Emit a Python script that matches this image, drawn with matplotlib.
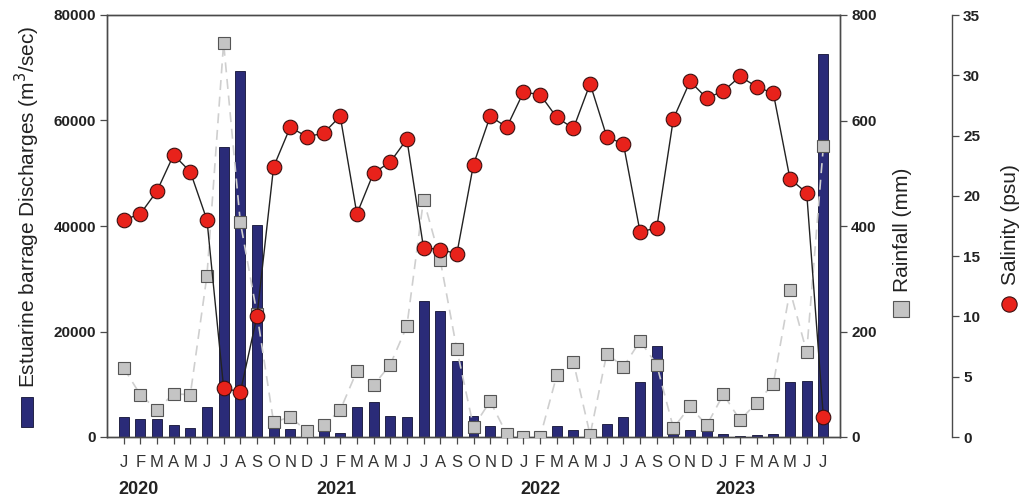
import matplotlib
matplotlib.use("Agg")
import matplotlib.pyplot as plt
import matplotlib.transforms as mtransforms
from matplotlib.lines import Line2D
from matplotlib.patches import Rectangle
import numpy as np

plt.rcParams['font.family'] = ['Liberation Sans', 'DejaVu Sans']

months = ["J", "F", "M", "A", "M", "J", "J", "A", "S", "O", "N", "D"] * 3 + ["J", "F", "M", "A", "M", "J", "J"]
years = ["2020", "2021", "2022", "2023"]
year_pos = [0.92, 12.75, 24.99, 36.7]

discharge = [3800, 3500, 3500, 2200, 1800, 5700, 54900, 69400, 40100, 2100, 1500, 1700,
             1200, 800, 5600, 6700, 3900, 3800, 25700, 23800, 14400, 3900, 2000, 600,
             200, 200, 2000, 1300, 300, 2400, 3700, 10400, 17300, 600, 1300, 1300,
             600, 250, 320, 650, 10400, 10550, 72700]

rainfall = [131, 80, 52, 82, 80, 306, 747, 408, 234, 28, 38, 11,
            22, 51, 125, 98, 137, 210, 450, 336, 166, 19, 68, 5,
            0, 0, 117, 142, 4, 158, 133, 182, 137, 17, 58, 22,
            81, 32, 65, 101, 278, 161, 551]

salinity = [18.0, 18.5, 20.4, 23.4, 22.0, 18.0, 4.1, 3.7, 10.0, 22.4, 25.7, 24.9,
            25.2, 26.6, 18.5, 21.9, 22.8, 24.7, 15.7, 15.55, 15.2, 22.6, 26.6, 25.7,
            28.6, 28.4, 26.5, 25.6, 29.3, 24.9, 24.3, 17.0, 17.35, 26.4, 29.5, 28.1,
            28.7, 29.9, 29.05, 28.5, 21.4, 20.25, 1.7]

x = np.arange(len(months))

W, H = 1027, 503
fig = plt.figure(figsize=(W / 100, H / 100), dpi=100)
L, R, T, B = 107, 840, 15, 437
ax = fig.add_axes([L / W, 1 - B / H, (R - L) / W, (B - T) / H])

spine_col = '#4a4a4a'
tick_font = dict(fontsize=11, fontweight='bold', color='#222222')

ax.bar(x, discharge, width=0.6, color='#2a2b78', edgecolor='#111133', linewidth=0.6, zorder=2)
ax.set_xlim(-1, 43)
ax.set_ylim(0, 80000)
ax.set_yticks([0, 20000, 40000, 60000, 80000])
ax.set_yticklabels(['0', '20000', '40000', '60000', '80000'], **tick_font)
ax.set_xticks(x)
ax.set_xticklabels(months, fontsize=12, color='#333333')
ax.tick_params(axis='x', direction='out', length=5, width=0.9, color=spine_col, pad=8)
ax.tick_params(axis='y', direction='out', length=5, width=0.9, color=spine_col, pad=3)
for s in ax.spines.values():
    s.set_color(spine_col)
    s.set_linewidth(1.0)

ax2 = ax.twinx()
ax2.plot(x, rainfall, linestyle=(0, (6, 4)), color='#cfcfcf', linewidth=1.2,
         marker='s', markersize=9, markerfacecolor='#c4c4c4', markeredgecolor='#555555',
         markeredgewidth=0.8, zorder=3)
ax2.set_ylim(0, 800)
ax2.set_yticks([0, 200, 400, 600, 800])
ax2.set_yticklabels(['0', '200', '400', '600', '800'], **tick_font)
ax2.tick_params(axis='y', direction='out', length=5, width=0.9, color=spine_col, pad=3)
for s in ax2.spines.values():
    s.set_color(spine_col)
    s.set_linewidth(1.0)

ax3 = ax.twinx()
ax3.spines['right'].set_position(('axes', (952 - L) / (R - L)))
ax3.plot(x, salinity, color='#222222', linewidth=1.0,
         marker='o', markersize=10.5, markerfacecolor='#e8221b', markeredgecolor='#3a1010',
         markeredgewidth=0.8, zorder=4)
ax3.set_ylim(0, 35)
ax3.set_yticks([0, 5, 10, 15, 20, 25, 30, 35])
ax3.set_yticklabels(['0', '5', '10', '15', '20', '25', '30', '35'], **tick_font)
ax3.tick_params(axis='y', direction='out', length=5, width=0.9, color=spine_col, pad=3)
for name, s in ax3.spines.items():
    s.set_visible(name == 'right')
    s.set_color(spine_col)
    s.set_linewidth(1.0)

# year labels
trans = mtransforms.blended_transform_factory(ax.transData, ax.transAxes)
for yp, yl in zip(year_pos, years):
    ax.text(yp, -(490 - B) / (B - T), yl, transform=trans, ha='center', va='center',
            fontsize=13, fontweight='bold', color='#222222')

# rotated axis labels with legend symbols
lab_font = dict(fontsize=15, color='#222222', rotation=90)
fig.text(27 / W, 1 - 388 / H, 'Estuarine barrage Discharges (m$^3$/sec)', ha='center', va='bottom', **lab_font)
fig.patches.append(Rectangle((20.5 / W, 1 - 427 / H), 12.5 / W, 30 / H, transform=fig.transFigure,
                             facecolor='#2a2b78', edgecolor='#111133', linewidth=0.6))

fig.text(902 / W, 1 - 292 / H, 'Rainfall (mm)', ha='center', va='bottom', **lab_font)
fig.lines.append(Line2D([901 / W], [1 - 308.5 / H], transform=fig.transFigure, marker='s',
                        markersize=11.5, markerfacecolor='#c4c4c4', markeredgecolor='#555555',
                        markeredgewidth=0.8, linestyle='none'))

fig.text(1010 / W, 1 - 285 / H, 'Salinity (psu)', ha='center', va='bottom', **lab_font)
fig.lines.append(Line2D([1009 / W], [1 - 304 / H], transform=fig.transFigure, marker='o',
                        markersize=11, markerfacecolor='#e8221b', markeredgecolor='#3a1010',
                        markeredgewidth=0.8, linestyle='none'))

fig.savefig('out.png', dpi=100)
